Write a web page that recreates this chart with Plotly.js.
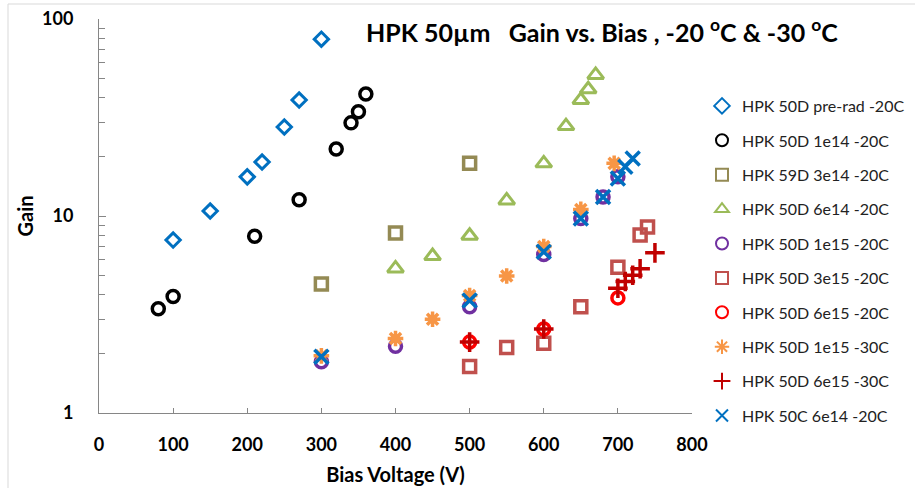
<!DOCTYPE html>
<html>
<head>
<meta charset="utf-8">
<script src="https://cdn.plot.ly/plotly-3.0.1.min.js"></script>
<style>html,body{margin:0;padding:0;background:#fff;}#chart{width:915px;height:488px;}</style>
</head>
<body>
<div id="chart"></div>
<script>
// ---- data ----
const seriesNames = [
  "HPK 50D pre-rad -20C",
  "HPK 50D 1e14 -20C",
  "HPK 59D 3e14 -20C",
  "HPK 50D 6e14 -20C",
  "HPK 50D 1e15 -20C",
  "HPK 50D 3e15 -20C",
  "HPK 50D 6e15 -20C",
  "HPK 50D 1e15 -30C",
  "HPK 50D 6e15 -30C",
  "HPK 50C 6e14 -20C"
];
const preRadV = [100, 150, 200, 220, 250, 270, 300];
const preRadG = [7.55, 10.6, 15.8, 18.8, 28.3, 38.8, 79];
const d1e14V = [80, 100, 210, 270, 320, 340, 350, 360];
const d1e14G = [3.38, 3.9, 7.9, 12.1, 21.9, 29.7, 33.8, 41.6];
const d3e14V = [300, 400, 500];
const d3e14G = [4.52, 8.2, 18.5];
const d6e14V = [400, 450, 500, 550, 600, 630, 650, 660, 670];
const d6e14G = [5.42, 6.26, 7.94, 12.0, 18.5, 28.6, 38.8, 44, 52];
const d1e15V = [300, 400, 500, 600, 650, 680, 700];
const d1e15G = [1.82, 2.18, 3.46, 6.38, 9.7, 12.5, 15.8];
const d3e15V = [500, 550, 600, 650, 700, 730, 740];
const d3e15G = [1.72, 2.15, 2.26, 3.46, 5.5, 8.0, 8.8];
const d6e15V = [500, 600, 700];
const d6e15G = [2.29, 2.67, 3.84];
const d1e15c30V = [300, 400, 450, 500, 550, 600, 650, 695];
const d1e15c30G = [1.95, 2.39, 2.99, 3.95, 4.96, 7.0, 10.8, 18.5];
const d6e15c30V = [500, 600, 700, 710, 720, 730, 750];
const d6e15c30G = [2.29, 2.67, 4.3, 4.65, 5.0, 5.4, 6.5];
const c6e14V = [300, 500, 600, 650, 680, 700, 710, 720];
const c6e14G = [1.93, 3.72, 6.58, 9.7, 12.5, 15.5, 17.8, 19.6];

const xTicks = [0, 100, 200, 300, 400, 500, 600, 700, 800];
const yTicks = [1, 10, 100];
const yTickText = ["1", "10", "100"];
const yMinor = [2,3,4,5,6,7,8,9,20,30,40,50,60,70,80,90];

// ---- styles ----
const styles = [
  {symbol: "diamond-open", color: "#0070C0", size: 11, w: 3},
  {symbol: "circle-open", color: "#000000", size: 12, w: 3.5},
  {symbol: "square-open", color: "#948A54", size: 12, w: 3.5},
  {symbol: "triangle-up-open", color: "#9BBB59", size: 14, w: 3},
  {symbol: "circle-open", color: "#7030A0", size: 12, w: 3.5},
  {symbol: "square-open", color: "#C0504D", size: 12, w: 3.5},
  {symbol: "circle-open", color: "#FF0000", size: 12, w: 3.5},
  {symbol: "asterisk-open", color: "#F79646", size: 13, w: 3.5},
  {symbol: "cross-thin-open", color: "#C00000", size: 14, w: 3.5},
  {symbol: "x-thin-open", color: "#0070C0", size: 14, w: 3.5}
];
const xs = [preRadV, d1e14V, d3e14V, d6e14V, d1e15V, d3e15V, d6e15V, d1e15c30V, d6e15c30V, c6e14V];
const ys = [preRadG, d1e14G, d3e14G, d6e14G, d1e15G, d3e15G, d6e15G, d1e15c30G, d6e15c30G, c6e14G];

const FONT = "Lato, 'Open Sans', sans-serif";

const traces = seriesNames.map((n, i) => ({
  type: "scatter", mode: "markers", name: n, x: xs[i], y: ys[i],
  legendgroup: "g" + i,
  marker: {symbol: styles[i].symbol, size: styles[i].size, color: styles[i].color,
           line: {color: styles[i].color, width: styles[i].w}},
  cliponaxis: false
}));

const L = 99, R = 692, T = 19, B = 413;
const W = 915, H = 488;

const layout = {
  width: W, height: H,
  margin: {l: L, r: W - R, t: T, b: H - B, autoexpand: false},
  paper_bgcolor: "#fff", plot_bgcolor: "#fff",
  font: {family: FONT, color: "#000", size: 16},
  showlegend: true,
  title: {
    text: "HPK 50µm\u00A0\u00A0\u00A0Gain vs. Bias , -20 <sup>o</sup>C & -30 <sup>o</sup>C",
    font: {family: FONT, size: 25, weight: "bold", color: "#000"},
    xref: "paper", x: (602 - L) / (R - L), xanchor: "center",
    yref: "container", y: 1 - 33 / H, yanchor: "middle"
  },
  xaxis: {
    range: [0, 800], tickvals: xTicks, ticktext: xTicks.map(String),
    automargin: true,
    showgrid: false, zeroline: false, showline: true, linecolor: "#868686", linewidth: 1,
    ticks: "inside", ticklen: 5, tickcolor: "#868686",
    tickfont: {family: FONT, size: 18, weight: "bold", color: "#000"},
    ticklabelstandoff: 15,
    title: {text: "Bias Voltage (V)", font: {family: FONT, size: 20, weight: "bold", color: "#000"}, standoff: 14}
  },
  yaxis: {
    type: "log", range: [0, 2], tickvals: yTicks, ticktext: yTickText,
    automargin: true,
    showgrid: false, zeroline: false, showline: true, linecolor: "#868686", linewidth: 1,
    ticks: "inside", ticklen: 7, tickcolor: "#868686",
    minor: {tickvals: yMinor, ticks: "inside", ticklen: 6, tickcolor: "#868686", showgrid: false},
    tickfont: {family: FONT, size: 18, weight: "bold", color: "#000"},
    ticklabelstandoff: 21,
    title: {text: "Gain", font: {family: FONT, size: 20, weight: "bold", color: "#000"}, standoff: 3}
  },
  legend: {
    x: (702 - L) / (R - L), xanchor: "left", xref: "paper",
    y: 1 - (89 - T) / (B - T), yanchor: "top", yref: "paper",
    font: {family: FONT, size: 16, color: "#222"},
    tracegroupgap: 10.6, itemwidth: 30, itemsizing: "constant",
    bgcolor: "rgba(0,0,0,0)", borderwidth: 0
  },
  shapes: [{
    type: "rect", xref: "paper", yref: "paper",
    x0: (8 - L) / (R - L), x1: (930 - L) / (R - L),
    y0: (B - 500) / (B - T), y1: (B - 4) / (B - T),
    line: {color: "#D9D9D9", width: 1}, fillcolor: "rgba(0,0,0,0)", layer: "below"
  }]
};

Plotly.newPlot("chart", traces, layout, {staticPlot: true, displayModeBar: false});
</script>
</body>
</html>
